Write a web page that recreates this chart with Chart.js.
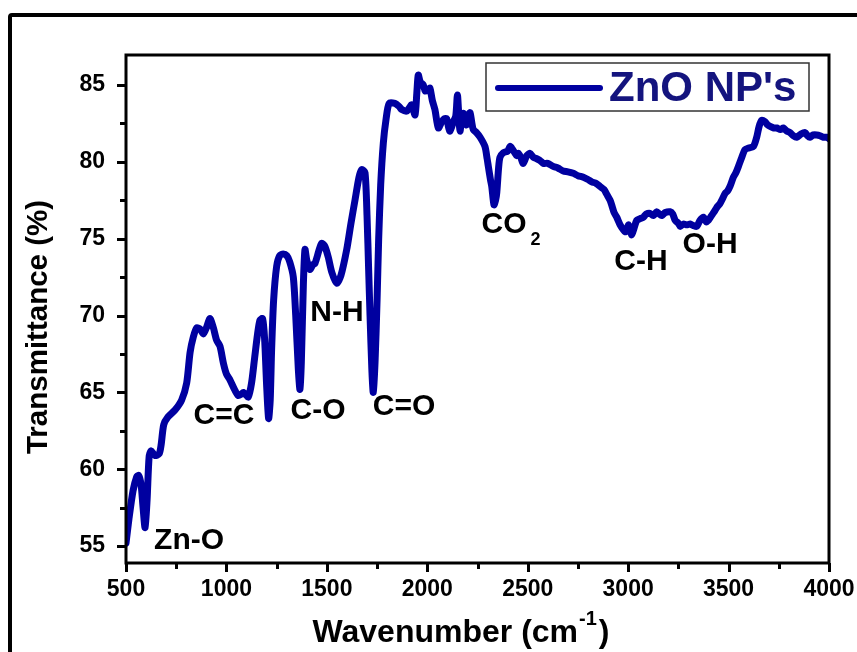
<!DOCTYPE html>
<html>
<head>
<meta charset="utf-8">
<script src="https://cdn.jsdelivr.net/npm/chart.js@4/dist/chart.umd.min.js"></script>
<style>
  html, body { margin: 0; padding: 0; background: #fff; overflow: hidden; }
  #wrap { position: relative; width: 857px; height: 652px; overflow: hidden; }
  #frame { position: absolute; left: 8px; top: 13px; width: 900px; height: 700px;
           border: 4px solid #000; border-radius: 4px; box-sizing: border-box; }
  canvas { position: absolute; left: 0; top: 0; }
</style>
</head>
<body>
<div id="wrap">
  <div id="frame"></div>
  <canvas id="c" width="857" height="652"></canvas>
</div>
<script>
// FTIR spectrum of ZnO nanoparticles
const wavenumbers = [
  500, 515, 535, 553, 563, 575, 585, 595, 605, 615, 625, 644, 665, 675, 688, 709, 744, 777, 802, 819,
  835, 852, 870, 885, 900, 918, 935, 951, 968, 985, 1000, 1018, 1040, 1059, 1075, 1084, 1100, 1109, 1125, 1140,
  1155, 1167, 1180, 1190, 1200, 1210, 1218, 1225, 1235, 1250, 1265, 1283, 1300, 1315, 1333, 1345, 1358, 1366, 1373, 1383,
  1391, 1400, 1416, 1430, 1441, 1460, 1474, 1490, 1507, 1525, 1549, 1570, 1599, 1620, 1640, 1660, 1674, 1690, 1700, 1708,
  1715, 1724, 1731, 1740, 1750, 1758, 1768, 1781, 1795, 1810, 1839, 1860, 1873, 1897, 1910, 1922, 1939, 1948, 1955, 1965,
  1980, 1990, 2005, 2013, 2025, 2038, 2055, 2072, 2085, 2097, 2105, 2113, 2130, 2142, 2150, 2157, 2163, 2172, 2180, 2188,
  2196, 2205, 2213, 2221, 2229, 2245, 2263, 2287, 2298, 2304, 2315, 2321, 2332, 2340, 2346, 2355, 2362, 2379, 2400, 2412,
  2420, 2435, 2445, 2453, 2465, 2478, 2495, 2511, 2528, 2545, 2560, 2578, 2600, 2627, 2650, 2677, 2700, 2727, 2750, 2777,
  2800, 2819, 2840, 2860, 2880, 2893, 2910, 2918, 2930, 2943, 2960, 2975, 2985, 2993, 3001, 3010, 3018, 3030, 3043, 3060,
  3076, 3090, 3109, 3125, 3142, 3155, 3167, 3185, 3209, 3222, 3234, 3250, 3259, 3275, 3292, 3309, 3325, 3342, 3358, 3375,
  3388, 3400, 3415, 3433, 3445, 3458, 3470, 3483, 3495, 3507, 3524, 3537, 3549, 3566, 3582, 3600, 3624, 3640, 3652, 3665,
  3682, 3695, 3707, 3725, 3740, 3758, 3773, 3790, 3806, 3822, 3839, 3860, 3881, 3893, 3905, 3922, 3939, 3955, 3972, 3988,
  4000
];
const transmittance = [
  55.2, 56.8, 58.6, 59.5, 59.6, 59.0, 57.5, 56.2, 58.0, 60.8, 61.2, 60.9, 61.0, 61.6, 62.9, 63.4, 63.85, 64.5, 65.6, 67.6,
  68.6, 69.2, 69.1, 68.8, 69.2, 69.8, 69.2, 68.4, 68.0, 66.9, 66.2, 65.8, 65.2, 64.8, 64.9, 65.0, 64.8, 64.7, 65.6, 67.2,
  68.8, 69.7, 69.8, 68.5, 65.5, 63.3, 64.5, 67.8, 71.0, 73.2, 73.9, 74.0, 73.9, 73.5, 72.5, 70.0, 66.5, 65.2, 67.0, 72.0,
  74.3, 73.6, 73.0, 73.3, 73.4, 74.2, 74.7, 74.5, 73.8, 72.8, 72.1, 72.6, 74.3, 76.0, 77.5, 79.0, 79.5, 79.3, 76.5, 73.0,
  70.0, 66.5, 65.0, 67.0, 71.0, 75.0, 78.5, 81.2, 82.8, 83.8, 83.8, 83.6, 83.4, 83.3, 83.5, 83.7, 83.05, 84.5, 85.65, 85.2,
  85.0, 84.6, 84.7, 84.8, 84.0, 83.4, 82.2, 82.6, 82.8, 82.8, 82.3, 82.0, 82.6, 83.0, 84.35, 83.0, 82.0, 82.9, 83.15, 82.5,
  82.4, 83.0, 83.2, 82.6, 82.1, 81.9, 81.6, 81.0, 80.2, 79.7, 78.8, 78.4, 77.2, 77.5, 78.0, 79.6, 80.3, 80.6, 80.7, 81.0,
  80.9, 80.6, 80.4, 80.55, 80.3, 79.9, 80.4, 80.55, 80.3, 80.2, 80.1, 79.9, 79.9, 79.7, 79.6, 79.4, 79.35, 79.25, 79.1, 79.0,
  78.85, 78.7, 78.6, 78.4, 78.2, 77.9, 77.5, 77.2, 76.7, 76.4, 75.9, 75.6, 75.45, 75.5, 75.9, 75.6, 75.25, 75.7, 76.2, 76.3,
  76.4, 76.6, 76.65, 76.5, 76.75, 76.6, 76.5, 76.7, 76.75, 76.6, 76.2, 76.0, 75.8, 75.95, 75.9, 75.95, 75.85, 75.8, 76.2, 76.4,
  76.1, 76.2, 76.5, 76.85, 77.1, 77.3, 77.6, 77.95, 78.1, 78.4, 79.0, 79.3, 79.7, 80.3, 80.8, 80.9, 81.0, 81.6, 82.3, 82.7,
  82.6, 82.4, 82.3, 82.2, 82.2, 82.1, 82.2, 82.0, 81.9, 81.7, 81.6, 81.8, 81.9, 81.7, 81.6, 81.75, 81.75, 81.7, 81.6, 81.6,
  81.5
];

// Axis ticks
const xMajorTicks = [500, 1000, 1500, 2000, 2500, 3000, 3500, 4000];
const xMinorTicks = [750, 1250, 1750, 2250, 2750, 3250, 3750];
const yMajorTicks = [55, 60, 65, 70, 75, 80, 85];
const yMinorTicks = [57.5, 62.5, 67.5, 72.5, 77.5, 82.5];

// Band assignments: label, wavenumber, transmittance at the label centre
const bandNames = ['Zn-O', 'C=C', 'C-O', 'N-H', 'C=O', 'CO', 'C-H', 'O-H'];
const bandX = [814, 988, 1456, 1550, 1884, 2382, 3064, 3408];
const bandY = [55.35, 63.5, 63.8, 70.2, 64.05, 75.9, 73.5, 74.6];

const FONT = "'Liberation Sans', Arial, Helvetica, sans-serif";
const LINE_COLOR = '#0000a0';

const decorations = {
  id: 'decorations',
  afterDatasetsDraw(chart) {
    const { ctx, chartArea: a, scales: { x, y } } = chart;
    ctx.save();

    // plot frame
    ctx.strokeStyle = '#000';
    ctx.lineWidth = 3;
    ctx.strokeRect(a.left, a.top, a.right - a.left, a.bottom - a.top);

    // outward tick marks
    ctx.lineWidth = 3;
    ctx.lineCap = 'butt';
    const yTick = (v, len) => {
      const p = Math.round(y.getPixelForValue(v)) + 0.5;
      ctx.beginPath(); ctx.moveTo(a.left - len, p); ctx.lineTo(a.left, p); ctx.stroke();
    };
    const xTick = (v, len) => {
      const p = Math.round(x.getPixelForValue(v)) + 0.5;
      ctx.beginPath(); ctx.moveTo(p, a.bottom); ctx.lineTo(p, a.bottom + len); ctx.stroke();
    };
    yMajorTicks.forEach(v => yTick(v, 9));
    yMinorTicks.forEach(v => yTick(v, 6));
    xMajorTicks.forEach(v => xTick(v, 9));
    xMinorTicks.forEach(v => xTick(v, 6));

    // band labels
    ctx.fillStyle = '#000';
    ctx.font = `bold 30px ${FONT}`;
    ctx.textAlign = 'center';
    ctx.textBaseline = 'middle';
    bandNames.forEach((name, i) => {
      const px = x.getPixelForValue(bandX[i]);
      const py = y.getPixelForValue(bandY[i]);
      ctx.fillText(name, px, py);
      if (name === 'CO') {
        const w = ctx.measureText(name).width;
        ctx.font = `bold 18px ${FONT}`;
        ctx.textAlign = 'left';
        ctx.fillText('2', px + w / 2 + 4, py + 15);
        ctx.font = `bold 30px ${FONT}`;
        ctx.textAlign = 'center';
      }
    });

    // legend
    const ds = chart.data.datasets[0];
    ctx.strokeStyle = '#333';
    ctx.lineWidth = 1.5;
    ctx.strokeRect(486, 63, 323, 48);
    ctx.strokeStyle = ds.borderColor;
    ctx.lineWidth = 6;
    ctx.lineCap = 'round';
    ctx.beginPath(); ctx.moveTo(498, 88); ctx.lineTo(600, 88); ctx.stroke();
    ctx.fillStyle = '#14147e';
    ctx.font = `bold 42px ${FONT}`;
    ctx.textAlign = 'left';
    ctx.textBaseline = 'middle';
    ctx.fillText(ds.label, 609, 89);

    // axis titles
    ctx.fillStyle = '#000';
    ctx.font = `bold 29.5px ${FONT}`;
    ctx.save();
    ctx.translate(39, 327);
    ctx.rotate(-Math.PI / 2);
    ctx.textAlign = 'center';
    ctx.fillText('Transmittance (%)', 0, 0);
    ctx.restore();

    const main = 'Wavenumber (cm';
    const sup = '-1';
    ctx.font = `bold 32px ${FONT}`;
    const w1 = ctx.measureText(main).width;
    const w3 = ctx.measureText(')').width;
    ctx.font = `bold 20px ${FONT}`;
    const w2 = ctx.measureText(sup).width;
    const sx = 461 - (w1 + w2 + w3 + 3) / 2;
    ctx.textAlign = 'left';
    ctx.font = `bold 32px ${FONT}`;
    ctx.fillText(main, sx, 633);
    ctx.font = `bold 20px ${FONT}`;
    ctx.fillText(sup, sx + w1 + 1, 619);
    ctx.font = `bold 32px ${FONT}`;
    ctx.fillText(')', sx + w1 + w2 + 3, 633);

    ctx.restore();
  }
};

new Chart(document.getElementById('c'), {
  type: 'line',
  data: {
    datasets: [{
      label: "ZnO NP's",
      data: wavenumbers.map((w, i) => ({ x: w, y: transmittance[i] })),
      borderColor: LINE_COLOR,
      borderWidth: 7,
      pointRadius: 0,
      tension: 0.25,
      borderJoinStyle: 'round',
      borderCapStyle: 'round',
      fill: false
    }]
  },
  options: {
    responsive: false,
    animation: false,
    devicePixelRatio: 1,
    layout: { padding: { left: 0, right: 28, top: 55, bottom: 0 } },
    plugins: { legend: { display: false }, tooltip: { enabled: false } },
    scales: {
      x: {
        type: 'linear',
        min: 500,
        max: 4000,
        afterBuildTicks: s => { s.ticks = xMajorTicks.map(v => ({ value: v })); },
        afterFit: s => { s.height = 89; s.paddingLeft = 0; s.paddingRight = 0; },
        grid: { display: false, drawTicks: false },
        border: { display: false },
        ticks: {
          color: '#000',
          padding: 13,
          maxRotation: 0,
          autoSkip: false,
          callback: v => String(v),
          font: { family: FONT, size: 23, weight: 'bold' }
        }
      },
      y: {
        type: 'linear',
        min: 53.9,
        max: 86.95,
        afterBuildTicks: s => { s.ticks = yMajorTicks.map(v => ({ value: v })); },
        afterFit: s => { s.width = 126; s.paddingTop = 0; s.paddingBottom = 0; },
        grid: { display: false, drawTicks: false },
        border: { display: false },
        ticks: {
          color: '#000',
          padding: 21,
          callback: v => String(v),
          font: { family: FONT, size: 23, weight: 'bold' }
        }
      }
    }
  },
  plugins: [decorations]
});
</script>
</body>
</html>
